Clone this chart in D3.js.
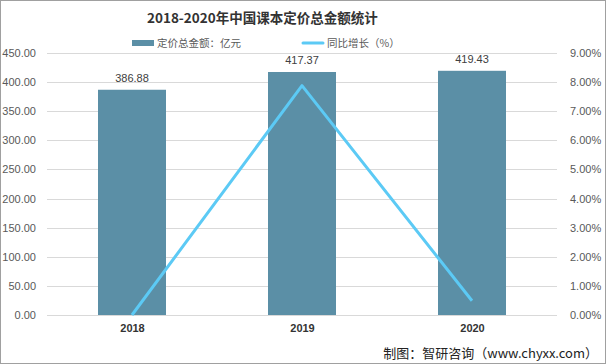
<!DOCTYPE html>
<html>
<head>
<meta charset="utf-8">
<script src="https://cdn.jsdelivr.net/npm/d3@7"></script>
<style>
  body { margin: 0; background: #fff; }
  svg { display: block; font-family: "Microsoft YaHei", "Noto Sans CJK SC", sans-serif; }
</style>
</head>
<body>
<svg id="chart" width="606" height="364"></svg>
<script>
"use strict";

//
// Data
//

var years = ["2018", "2019", "2020"];
var totalValue = [386.88, 417.37, 419.43];     // 亿元
var growthRate = [0.00, 7.88, 0.49];           // %
var leftTicks = [0, 50, 100, 150, 200, 250, 300, 350, 400, 450];
var rightTicks = [0, 1, 2, 3, 4, 5, 6, 7, 8, 9];

//
// Layout
//

var width = 606, height = 364;
var margin = { top: 53, right: 49, bottom: 49, left: 47 };
var innerW = width - margin.left - margin.right;
var innerH = height - margin.top - margin.bottom;

var barColor = "#5b8fa6",
    lineColor = "#5ccaf5",
    tickColor = "#595959";

var svg = d3.select("#chart");

// border
svg.append("rect")
    .attr("x", 0.5).attr("y", 0.5)
    .attr("width", width - 1).attr("height", height - 1)
    .style("fill", "#fff").style("stroke", "#a0a0a0").style("stroke-width", 1);

var g = svg.append("g").attr("transform", "translate(" + margin.left + "," + margin.top + ")");

var x = d3.scaleBand().domain(years).range([0, innerW]).paddingInner(0.6).paddingOuter(0.3);
var xc = d3.scalePoint().domain(years).range([0, innerW]).padding(0.5);
var yL = d3.scaleLinear().domain([0, 450]).range([innerH, 0]);
var yR = d3.scaleLinear().domain([0, 9]).range([innerH, 0]);

// grid
g.selectAll(".grid").data(leftTicks).enter().append("line")
    .attr("x1", 0).attr("x2", innerW)
    .attr("y1", function (d) { return Math.round(yL(d)) + 0.5; })
    .attr("y2", function (d) { return Math.round(yL(d)) + 0.5; })
    .style("stroke", "#d9d9d9").style("stroke-width", 1);

// left axis
var axisL = g.append("g")
    .call(d3.axisLeft(yL).tickValues(leftTicks).tickSize(0).tickPadding(11)
        .tickFormat(function (d) { return d3.format(".2f")(d); }));
axisL.select(".domain").remove();
axisL.selectAll("text").style("font-size", "11px").style("fill", tickColor)
    .style("font-family", "Arial, 'Liberation Sans', sans-serif");

// right axis
var axisR = g.append("g").attr("transform", "translate(" + innerW + ",0)")
    .call(d3.axisRight(yR).tickValues(rightTicks).tickSize(0).tickPadding(13)
        .tickFormat(function (d) { return d3.format(".2f")(d) + "%"; }));
axisR.select(".domain").remove();
axisR.selectAll("text").style("font-size", "11px").style("fill", tickColor)
    .style("font-family", "Arial, 'Liberation Sans', sans-serif");

// bottom axis
var axisB = g.append("g").attr("transform", "translate(0," + innerH + ")")
    .call(d3.axisBottom(xc).tickSize(0).tickPadding(9));
axisB.select(".domain").remove();
axisB.selectAll("text").style("font-size", "11px").style("font-weight", "bold")
    .style("fill", "#333").style("font-family", "Arial, 'Liberation Sans', sans-serif");

// bars
g.selectAll(".bar").data(totalValue).enter().append("rect")
    .attr("class", "bar")
    .attr("x", function (d, i) { return x(years[i]); })
    .attr("y", function (d) { return yL(d); })
    .attr("width", x.bandwidth())
    .attr("height", function (d) { return innerH - yL(d); })
    .style("fill", barColor);

// bar labels
g.selectAll(".barLabel").data(totalValue).enter().append("text")
    .attr("x", function (d, i) { return xc(years[i]); })
    .attr("y", function (d) { return yL(d) - 8; })
    .attr("text-anchor", "middle")
    .style("font-size", "11px").style("fill", "#404040")
    .style("font-family", "Arial, 'Liberation Sans', sans-serif")
    .text(function (d) { return d3.format(".2f")(d); });

// growth line
var line = d3.line()
    .x(function (d, i) { return xc(years[i]); })
    .y(function (d) { return yR(d); });

g.append("path").datum(growthRate)
    .attr("d", line)
    .style("fill", "none").style("stroke", lineColor).style("stroke-width", 3)
    .style("stroke-linejoin", "round");

// title
svg.append("text")
    .attr("x", 147).attr("y", 23)
    .style("font-size", "13.5px").style("font-weight", "bold").style("fill", "#333")
    .text("2018-2020年中国课本定价总金额统计");

// legend
var legend = svg.append("g");
legend.append("rect").attr("x", 132).attr("y", 40).attr("width", 22).attr("height", 6).style("fill", barColor);
legend.append("text").attr("x", 157).attr("y", 47)
    .style("font-size", "10.5px").style("fill", "#595959").text("定价总金额：亿元");
legend.append("line").attr("x1", 303).attr("x2", 323).attr("y1", 43).attr("y2", 43)
    .style("stroke", lineColor).style("stroke-width", 3).style("stroke-linecap", "round");
legend.append("text").attr("x", 327).attr("y", 47)
    .style("font-size", "10.5px").style("fill", "#595959").text("同比增长（%）");

// source
svg.append("text")
    .attr("x", 598).attr("y", 358)
    .attr("text-anchor", "end")
    .style("font-size", "13px").style("fill", "#222")
    .text("制图：智研咨询（www.chyxx.com）");
</script>
</body>
</html>
